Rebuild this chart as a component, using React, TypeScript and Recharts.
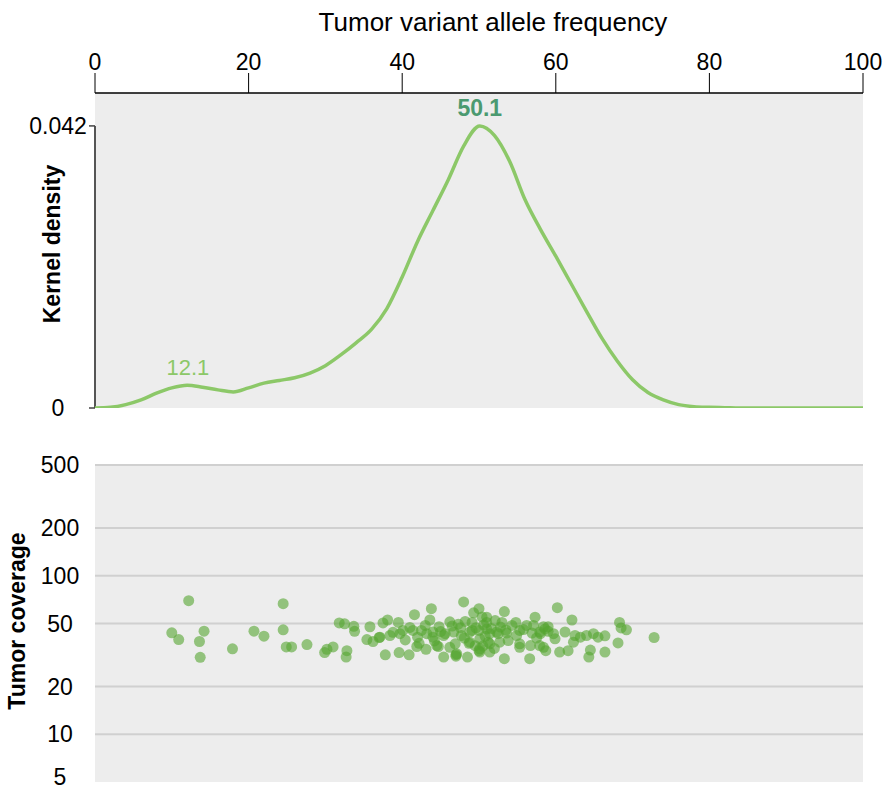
import React from 'react';
import {
  LineChart, Line, XAxis, YAxis, ReferenceArea, ReferenceLine, ReferenceDot,
  ScatterChart, Scatter,
} from 'recharts';

const FONT = '"Liberation Sans", Arial, Helvetica, sans-serif';

// ---- Density panel data ----
const densityX = [0, 2, 4, 6, 8, 10, 12, 14, 16, 18, 20, 22, 24, 26, 28, 30, 32, 34, 36, 38, 40, 42, 44, 46, 48, 50.1, 52, 54, 56, 58, 60, 62, 64, 66, 68, 70, 72, 74, 76, 78, 80, 82, 84, 88, 92, 96, 100];
const densityY = [0, 0.0001, 0.0005, 0.0012, 0.0022, 0.003, 0.0034, 0.0031, 0.0027, 0.0024, 0.003, 0.0037, 0.0041, 0.0045, 0.0052, 0.0063, 0.0079, 0.0097, 0.0117, 0.0148, 0.0195, 0.0248, 0.0294, 0.034, 0.039, 0.042, 0.0406, 0.0367, 0.031, 0.0266, 0.0226, 0.0185, 0.0144, 0.0104, 0.007, 0.0042, 0.0023, 0.0012, 0.0005, 0.0002, 0.0001, 0.00005, 0, 0, 0, 0, 0];
const xTicks = [0, 20, 40, 60, 80, 100];
const densityTicks = [0, 0.042];
const DENSITY_MAX = 0.0469;
const peakX = [12.1, 50.1];
const peakY = [0.0034, 0.042];
const peakLabels = ['12.1', '50.1'];

// ---- Coverage panel data ----
const vafValues = [
  10.0, 10.9, 12.2, 14.2, 13.6, 13.7, 17.9, 20.7, 22.0, 24.5, 24.5, 24.9, 25.6, 27.6, 29.9, 30.2, 31.0, 31.8, 32.5, 32.8,
  32.7, 33.7, 33.8, 35.8, 35.4, 36.2, 37.0, 37.5, 37.8, 38.1, 37.1, 38.4, 39.5, 40.1, 40.4, 39.7, 39.6, 40.9, 41.6, 41.4,
  41.9, 42.2, 42.5, 43.0, 43.2, 43.1, 43.8, 43.6, 44.0, 44.7, 44.8, 45.4, 45.4, 46.2, 46.2, 46.7, 47.1, 47.0, 48.0, 47.7,
  48.2, 48.5, 48.7, 48.8, 49.3, 50.0, 49.1, 50.0, 50.0, 50.1, 51.0, 51.0, 51.0, 51.2, 51.4, 52.1, 52.3, 52.7, 53.0, 53.3,
  53.3, 53.8, 53.6, 54.3, 54.8, 54.9, 55.3, 56.2, 56.6, 56.7, 56.9, 57.3, 57.1, 58.0, 58.4, 58.7, 58.6, 59.0, 59.7, 59.9,
  60.2, 60.5, 61.2, 61.6, 62.1, 62.3, 62.5, 63.2, 64.0, 64.9, 64.5, 64.3, 65.5, 66.4, 66.4, 68.1, 68.3, 68.5, 69.2, 72.8,
  47.3, 58.4, 44.0, 45.6, 49.1, 51.4, 52.5, 55.3, 57.9, 59.0, 44.5, 46.9, 48.8, 50.1, 51.4, 55.3, 57.9, 47.0, 50.1,
  50.4, 50.6, 50.8, 50.5, 49.6, 51.6, 47.6, 46.5, 48.1, 52.8, 53.5, 45.0, 42.0, 38.8, 55.8, 57.5, 41.0, 44.2, 49.5, 52.0,
];
const coverageValues = [
  43.7, 39.6, 69.7, 44.7, 38.5, 30.6, 34.6, 44.7, 41.6, 66.7, 45.6, 35.6, 35.6, 36.8, 32.8, 34.4, 35.6, 50.4, 49.8, 33.7,
  30.7, 48.0, 44.6, 47.7, 39.6, 38.5, 40.8, 50.4, 31.7, 52.6, 41.0, 42.0, 50.8, 45.2, 39.4, 43.1, 32.8, 31.7, 56.8, 45.2,
  35.8, 37.5, 45.2, 48.6, 43.1, 34.4, 62.0, 52.6, 41.0, 35.8, 47.7, 30.7, 42.0, 51.2, 35.4, 44.2, 32.2, 31.1, 68.4, 42.0,
  51.5, 30.7, 37.5, 44.2, 58.4, 62.0, 50.8, 33.7, 45.2, 40.0, 54.8, 50.8, 46.2, 38.1, 33.0, 52.2, 44.2, 38.1, 50.8, 59.5,
  30.0, 39.0, 43.5, 48.6, 50.8, 42.0, 37.2, 48.6, 30.0, 36.3, 43.5, 54.8, 48.6, 43.1, 35.4, 33.7, 46.2, 44.6, 43.1, 40.0,
  62.9, 33.0, 44.2, 33.7, 52.6, 38.1, 42.0, 41.0, 42.0, 43.1, 34.0, 30.7, 41.0, 41.8, 33.0, 37.7, 50.8, 46.9, 45.6, 40.8,
  49.5, 47.7, 44.2, 43.1, 45.2, 43.1, 43.1, 45.2, 44.2, 47.7, 36.3, 37.2, 38.1, 34.6, 37.2, 35.4, 36.3, 31.8, 33.0,
  55.0, 49.0, 41.5, 36.0, 47.0, 46.5, 47.0, 48.2, 40.5, 47.5, 45.5, 44.5, 41.0, 44.0, 45.8, 40.5, 47.2, 38.8, 36.2, 34.8,
];
const coverageTicks = [5, 10, 20, 50, 100, 200, 500];
const gridValues = [10, 20, 50, 100, 200, 500];

const densityData = densityX.map((x, i) => ({ x, y: densityY[i] }));
const scatterData = vafValues.map((x, i) => ({ x, y: coverageValues[i] }));

const LINE_GREEN = '#8cc868';
const PEAK_DARK = '#4b9a70';
const DOT_GREEN = '#55a530';
const BG = '#ededed';

const centeredTick = (cx: number, maxY: number) => (props: any) => {
  const { y, payload } = props;
  return (
    <text x={cx} y={Math.min(y, maxY)} textAnchor="middle" dominantBaseline="central" fontSize={23} fill="#000" fontFamily={FONT}>
      {String(payload.value)}
    </text>
  );
};

const verticalTitle = (text: string, cx: number, cy: number) => () => (
  <text
    x={cx}
    y={cy}
    transform={`rotate(-90, ${cx}, ${cy})`}
    textAnchor="middle"
    dominantBaseline="central"
    fontSize={23}
    fontWeight="bold"
    fill="#000"
    fontFamily={FONT}
  >
    {text}
  </text>
);

const topTitle = (props: any) => {
  const vb = props.viewBox || {};
  const cx = (vb.x ?? 95) + (vb.width ?? 768) / 2 + 14;
  return (
    <text x={cx} y={31} textAnchor="middle" fontSize={26} fill="#000" fontFamily={FONT}>
      Tumor variant allele frequency
    </text>
  );
};

const peakLabel = (text: string, i: number) => (props: any) => {
  const vb = props.viewBox || {};
  const x = (vb.x ?? 0) + (vb.width ?? 0) / 2;
  const y = (vb.y ?? 0) - 10;
  return (
    <text
      x={x}
      y={y}
      textAnchor="middle"
      fontSize={i === 1 ? 23 : 22}
      fontWeight={i === 1 ? 'bold' : 'normal'}
      fill={i === 1 ? PEAK_DARK : LINE_GREEN}
      fontFamily={FONT}
    >
      {text}
    </text>
  );
};

const dotShape = (props: any) => (
  <circle cx={props.cx} cy={props.cy} r={5.5} fill={DOT_GREEN} fillOpacity={0.6} stroke="none" />
);

export default function App() {
  return (
    <div style={{ position: 'absolute', left: 0, top: 0, width: 888, height: 790, background: '#fff', fontFamily: FONT }}>
      <div style={{ position: 'absolute', left: 0, top: 0 }}>
        <LineChart width={888} height={428} data={densityData} margin={{ top: 0, right: 25, bottom: 20, left: 0 }}>
          <ReferenceArea x1={0} x2={100} y1={0} y2={DENSITY_MAX} fill={BG} fillOpacity={1} stroke="none" ifOverflow="visible" />
          <XAxis
            dataKey="x"
            type="number"
            domain={[0, 100]}
            ticks={xTicks}
            interval={0}
            orientation="top"
            height={93}
            tickSize={20}
            tickMargin={3}
            axisLine={{ stroke: '#000', strokeWidth: 1.5 }}
            tickLine={{ stroke: '#000', strokeWidth: 1 }}
            tick={{ fontSize: 23, fill: '#000', fontFamily: FONT }}
            label={{ content: topTitle }}
          />
          <YAxis
            type="number"
            domain={[0, DENSITY_MAX]}
            ticks={densityTicks}
            interval={0}
            allowDataOverflow
            width={95}
            axisLine={false}
            tickSize={6}
            tickLine={{ stroke: '#444', strokeWidth: 1.5 }}
            tick={centeredTick(58, 1000)}
            label={{ content: verticalTitle('Kernel density', 52, 244) }}
          />
          <ReferenceLine
            segment={[{ x: 0, y: 0 }, { x: 0, y: 0.042 }]}
            stroke="#555"
            strokeWidth={2}
            ifOverflow="visible"
          />
          <Line
            dataKey="y"
            type="monotone"
            stroke={LINE_GREEN}
            strokeWidth={3.5}
            dot={false}
            activeDot={false}
            isAnimationActive={false}
          />
          {peakX.map((px, i) => (
            <ReferenceDot
              key={i}
              x={px}
              y={peakY[i]}
              r={0}
              fill="none"
              stroke="none"
              ifOverflow="visible"
              label={{ content: peakLabel(peakLabels[i], i) }}
            />
          ))}
        </LineChart>
      </div>
      <div style={{ position: 'absolute', left: 0, top: 435 }}>
        <ScatterChart width={888} height={355} margin={{ top: 30, right: 25, bottom: 8, left: 0 }}>
          <XAxis type="number" dataKey="x" domain={[0, 100]} hide />
          <YAxis
            type="number"
            dataKey="y"
            scale="log"
            domain={[5, 500]}
            ticks={coverageTicks}
            interval={0}
            allowDataOverflow
            width={95}
            axisLine={false}
            tickLine={false}
            tick={centeredTick(60, 342)}
            label={{ content: verticalTitle('Tumor coverage', 17, 186) }}
          />
          <ReferenceArea x1={0} x2={100} y1={5} y2={500} fill={BG} fillOpacity={1} stroke="none" ifOverflow="visible" />
          {gridValues.map((v) => (
            <ReferenceLine key={v} y={v} stroke="#d0d0d0" strokeWidth={2} ifOverflow="visible" />
          ))}
          <Scatter data={scatterData} shape={dotShape} isAnimationActive={false} />
        </ScatterChart>
      </div>
    </div>
  );
}
